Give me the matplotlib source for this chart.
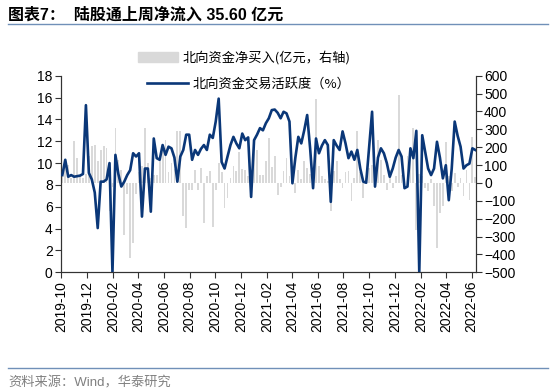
import numpy as np
import pandas as pd
import matplotlib
matplotlib.use("Agg")
import matplotlib.pyplot as plt
import matplotlib.dates as mdates
from matplotlib.patches import Patch
from matplotlib.lines import Line2D

plt.rcParams['font.family'] = ['Liberation Sans', 'Noto Sans CJK SC', 'DejaVu Sans']

# weekly dates, 2019-10-04 .. 2022-06-10
weeks = pd.date_range('2019-10-04', periods=141, freq='7D')

# 北向资金交易活跃度 (%), left axis
activity = [
    8.9, 10.3, 8.75, 8.9, 8.75, 8.8, 8.85, 9.0, 15.3, 9.1,
    8.5, 7.3, 4.05, 8.3, 8.3, 8.5, 10.0, 0.0, 10.75, 9.0,
    7.85, 8.3, 8.9, 9.35, 10.9, 10.6, 10.9, 5.1, 9.5, 9.5,
    5.55, 12.25, 10.45, 10.3, 11.65, 10.75, 11.5, 11.35, 10.5, 8.3,
    10.6, 11.2, 12.6, 12.6, 10.3, 11.2, 10.75, 11.3, 11.65, 11.2,
    12.6, 12.3, 13.8, 15.9, 10.1, 9.5, 10.6, 11.65, 12.4, 11.8,
    11.35, 12.7, 12.1, 12.35, 6.9, 12.1, 12.6, 13.2, 13.0, 13.65,
    14.1, 14.85, 14.9, 14.6, 14.1, 14.7, 14.55, 13.8, 8.15, 10.5,
    12.4, 11.8, 13.0, 14.4, 11.35, 7.7, 12.25, 10.9, 11.6, 12.1,
    11.65, 6.45, 12.1, 11.6, 11.2, 12.9, 11.8, 10.45, 11.05, 10.3,
    11.2, 9.5, 8.3, 8.2, 11.5, 14.7, 7.85, 10.5, 11.35, 10.9,
    10.0, 8.75, 9.5, 10.5, 11.2, 10.6, 7.7, 7.85, 11.35, 10.45,
    12.95, 0.0, 12.55, 11.0, 9.5, 8.9, 9.5, 11.95, 10.5, 8.6,
    9.8, 6.6, 9.5, 13.8, 12.5, 11.5, 9.5, 9.8, 9.95, 11.35,
    11.2,
]

# 北向资金净买入 (亿元), right axis
net_buy = [
    60, 110, 100, 30, 235, 141, 40, 30, 50, 150,
    206, 210, 120, 186, 206, 195, -159, -20, 308, 130,
    74, -293, -60, -420, -336, -60, 60, 93, 308, 110,
    30, 46, 46, 120, 180, 240, 60, 110, 80, 290,
    290, -187, -252, -37, -40, 74, -40, 83, -224, 40,
    65, -248, -40, 112, 60, -140, -84, 30, 97, 64,
    172, 80, 74, 40, 30, 197, 184, 45, 45, 120,
    253, 90, 150, -65, -20, 65, 140, 40, 30, -56,
    70, 20, 121, 84, 50, 30, 472, 93, 37, 20,
    10, -159, 65, 121, 20, -28, 60, 65, -103, 30,
    289, 60, -84, 30, 84, 100, -28, 242, 130, 45,
    -37, 74, -28, 40, 494, 45, -20, 149, 168, 308,
    -261, 50, 40, -28, -46, 20, -130, -364, -168, -130,
    230, 40, -46, 56, -20, 30, -75, 70, -93, 255,
    35.6,
]

left_ticks = np.arange(0, 19, 2)
right_ticks = np.arange(-500, 601, 100)
month_ticks = pd.date_range('2019-10-01', '2022-06-01', freq='2MS')

line_color = '#0a3778'
bar_color = '#d9d9d9'
rule_color = '#7090b8'

fig = plt.figure(figsize=(5.5, 3.91), dpi=100)
ax = fig.add_axes([0.111, 0.3036, 0.754, 0.5028])
ax2 = ax.twinx()

ax2.bar(weeks, net_buy, width=4.2, color=bar_color, zorder=1)
ax.plot(weeks, activity, color=line_color, lw=1.9, solid_joinstyle='round', zorder=3)

ax.set_zorder(ax2.get_zorder() + 1)
ax.patch.set_visible(False)

ax.set_ylim(0, 18)
ax.set_yticks(left_ticks)
ax2.set_ylim(-500, 600)
ax2.set_yticks(right_ticks)
ax.set_xlim(pd.Timestamp('2019-10-01'), pd.Timestamp('2022-06-11'))
ax.set_xticks(month_ticks)
ax.xaxis.set_major_formatter(mdates.DateFormatter('%Y-%m'))

for a in (ax, ax2):
    a.spines['top'].set_visible(False)
    for s in ('left', 'right', 'bottom'):
        a.spines[s].set_color('#333333')
        a.spines[s].set_linewidth(0.8)
    a.tick_params(direction='out', length=4, width=0.8, color='#333333',
                  labelsize=10, pad=2)
ax.tick_params(axis='x', rotation=90)

# legends
leg_font = {'family': ['Noto Sans CJK SC', 'DejaVu Sans'], 'size': 9.5}
leg1 = ax.legend(handles=[Patch(color=bar_color, label='北向资金净买入(亿元，右轴)')],
                 loc='center left', bbox_to_anchor=(0.251, 0.852),
                 bbox_transform=fig.transFigure, frameon=False, prop=leg_font,
                 handlelength=3.0, handleheight=0.8, handletextpad=0.4,
                 borderpad=0, borderaxespad=0)
ax.add_artist(leg1)
ax.legend(handles=[Line2D([], [], color=line_color, lw=1.9, label='北向资金交易活跃度（%）')],
          loc='center left', bbox_to_anchor=(0.267, 0.786),
          bbox_transform=fig.transFigure, frameon=False, prop=leg_font,
          handlelength=3.1, handletextpad=0.4, borderpad=0, borderaxespad=0)

# title, rules, source
fig.text(0.015, 0.962, '图表7：  陆股通上周净流入 35.60 亿元', fontsize=11.5,
         fontweight='bold', va='center', ha='left')
fig.add_artist(Line2D([0.015, 0.996], [0.938, 0.938], color=rule_color, lw=1.0,
                      transform=fig.transFigure))
fig.add_artist(Line2D([0.015, 0.996], [0.058, 0.058], color=rule_color, lw=1.0,
                      transform=fig.transFigure))
fig.text(0.015, 0.021, '资料来源：Wind，华泰研究', fontsize=9.5, color='#808080',
         va='center', ha='left')

fig.savefig('out.png', dpi=100)
